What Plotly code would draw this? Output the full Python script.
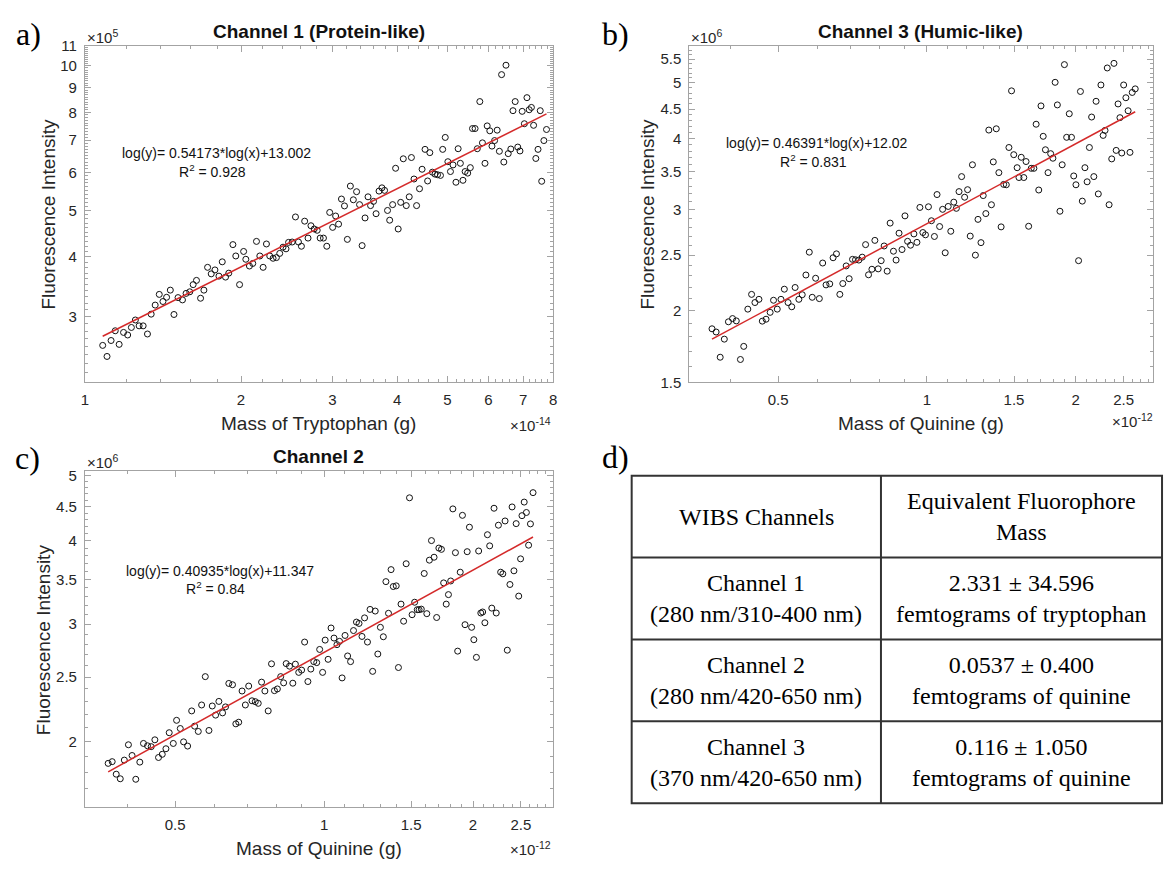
import numpy as np
import plotly.graph_objects as go

W, H = 1170, 872
SANS = "Liberation Sans, Arial, Helvetica, sans-serif"
SERIF = "Liberation Serif, Times New Roman, serif"
AX = "#a3a3a3"
TXT = "#262626"

# ---------------- data (x scaled by exponent label, y scaled by exponent label) ----------
# Channel 1 (Protein-like): mass of tryptophan (x1e-14 g), fluorescence intensity (x1e5)
ch1_mass = [1.082,1.103,1.123,1.144,1.164,1.187,1.209,1.229,1.251,1.272,
            1.295,1.320,1.342,1.366,1.391,1.414,1.437,1.461,1.485,1.512,
            1.542,1.567,1.593,1.617,1.641,1.671,1.696,1.724,1.752,1.781,
            1.813,1.840,1.867,1.894,1.929,1.954,1.987,2.023,2.043,2.076,
            2.107,2.142,2.174,2.206,2.239,2.272,2.306,2.340,2.375,2.410,
            2.442,2.470,2.510,2.547,2.581,2.615,2.653,2.693,2.728,2.768,
            2.805,2.842,2.884,2.927,2.965,3.004,3.044,3.084,3.124,3.166,
            3.207,3.250,3.293,3.341,3.385,3.424,3.469,3.515,3.555,3.602,
            3.643,3.691,3.739,3.783,3.833,3.870,3.921,3.973,4.019,4.064,
            4.111,4.166,4.221,4.262,4.311,4.361,4.418,4.469,4.528,4.580,
            4.625,4.678,4.732,4.786,4.849,4.897,4.953,5.011,5.069,5.127,
            5.194,5.245,5.297,5.358,5.410,5.472,5.536,5.590,5.654,5.710,
            5.775,5.842,5.909,5.967,6.036,6.095,6.166,6.237,6.299,6.361,
            6.424,6.486,6.551,6.627,6.691,6.757,6.835,6.902,6.970,7.038,
            7.119,7.190,7.261,7.332,7.405,7.478,7.552,7.601,7.675,7.765]
ch1_int = [2.614,2.479,2.676,2.804,2.627,2.782,2.748,2.849,2.953,2.871,
           2.871,2.761,3.037,3.172,3.339,3.227,3.293,3.408,3.032,3.288,
           3.252,3.355,3.381,3.499,3.571,3.278,3.408,3.802,3.685,3.755,
           3.645,3.904,3.628,3.697,4.240,4.015,3.499,4.103,3.952,3.826,
           3.874,4.306,4.015,3.802,4.253,4.015,3.971,3.984,4.065,4.188,
           4.155,4.286,4.293,4.842,4.293,4.207,4.745,4.375,4.642,4.570,
           4.542,4.375,4.375,4.207,4.948,4.606,4.864,4.678,5.277,5.105,
           4.348,5.615,5.258,5.466,5.137,4.220,4.819,5.333,5.113,5.218,
           4.918,5.482,5.568,5.501,4.995,4.767,5.137,6.116,4.570,5.193,
           6.401,5.113,5.333,6.440,5.809,5.113,5.544,6.088,6.697,5.755,
           6.593,6.003,5.947,5.929,5.910,6.697,7.092,6.312,6.021,6.215,
           5.719,6.718,6.263,5.773,6.021,5.975,6.135,7.401,7.401,6.718,
           8.424,6.910,6.263,7.495,7.321,6.803,6.986,7.344,6.636,9.587,
           6.302,10.03,6.562,6.708,8.063,8.424,6.771,6.646,8.038,7.574,
           8.583,8.100,8.190,7.516,6.411,6.697,8.063,5.746,6.986,7.367]
ch1_fit = {"slope": 0.54173, "intercept": 13.002, "r2": "0.928", "xexp": -14, "yexp": 5}

# Channel 3 (Humic-like): mass of quinine (x1e-12 g), fluorescence intensity (x1e6)
ch3_mass = [0.3674,0.3745,0.3817,0.3891,0.3966,0.4043,0.4114,0.4194,0.4259,0.4341,
            0.4418,0.4487,0.4572,0.4644,0.4726,0.4817,0.4893,0.4979,0.5066,0.5146,
            0.5236,0.5327,0.5411,0.5506,0.5593,0.5690,0.5780,0.5860,0.5953,0.6057,
            0.6152,0.6249,0.6358,0.6458,0.6560,0.6664,0.6757,0.6864,0.6960,0.7069,
            0.7168,0.7281,0.7396,0.7513,0.7617,0.7737,0.7845,0.7968,0.8079,0.8191,
            0.8308,0.8424,0.8555,0.8660,0.8780,0.8902,0.9026,0.9137,0.9264,0.9410,
            0.9543,0.9676,0.9811,0.9931,1.0070,1.0210,1.0353,1.0480,1.0607,1.0756,
            1.0887,1.1040,1.1173,1.1331,1.1468,1.1610,1.1751,1.1917,1.2083,1.2232,
            1.2359,1.2531,1.2683,1.2861,1.2996,1.3155,1.3339,1.3502,1.3619,1.3811,
            1.3978,1.4125,1.4295,1.4470,1.4648,1.4828,1.4982,1.5219,1.5350,1.5512,
            1.5700,1.5866,1.6058,1.6255,1.6455,1.6628,1.6832,1.7008,1.7185,1.7364,
            1.7578,1.7793,1.7979,1.8166,1.8356,1.8578,1.8773,1.8969,1.9167,1.9403,
            1.9605,1.9810,2.0016,2.0262,2.0440,2.0617,2.0870,2.1086,2.1309,2.1531,
            2.1756,2.1983,2.2212,2.2485,2.2720,2.2919,2.3158,2.3359,2.3646,2.3893,
            2.4142,2.4354,2.4568,2.4779,2.4997,2.5257,2.5521,2.5745,2.6014,2.6382]
ch3_int = [1.860,1.836,1.659,1.784,1.913,1.938,1.920,1.644,1.733,2.013,
           2.136,2.067,2.094,1.918,1.933,1.987,2.086,2.013,2.094,2.181,
           2.067,2.032,2.196,2.094,2.133,2.309,2.531,2.111,2.279,2.100,
           2.423,2.219,2.228,2.475,2.514,2.136,2.231,2.395,2.275,2.459,
           2.455,2.452,2.481,2.609,2.311,2.363,2.654,2.367,2.446,2.595,
           2.345,2.845,2.541,2.452,2.732,2.558,2.929,2.644,2.603,2.724,
           2.633,3.030,2.739,2.714,3.038,2.872,2.696,3.191,2.806,3.007,
           2.525,3.042,2.753,3.095,3.019,3.229,3.430,3.157,3.254,2.700,
           3.597,2.501,2.888,2.630,3.178,2.956,4.136,3.063,3.639,4.157,
           3.485,2.802,3.324,3.319,3.856,4.842,3.746,3.555,3.417,3.707,
           3.417,3.644,2.809,3.546,3.546,4.234,3.250,4.558,4.033,3.821,
           3.485,3.761,3.693,5.011,4.576,2.984,3.597,5.381,4.017,4.416,
           4.017,3.439,3.319,2.446,4.830,3.108,3.555,3.359,3.856,4.358,
           3.430,4.643,3.199,4.958,4.048,4.130,5.309,3.063,3.683,5.408,
           3.811,4.594,4.347,3.771,4.958,4.710,4.470,3.781,4.811,4.881]
ch3_fit = {"slope": 0.46391, "intercept": 12.02, "r2": "0.831", "xexp": -12, "yexp": 6}

# Channel 2: mass of quinine (x1e-12 g), fluorescence intensity (x1e6)
ch2_mass = [0.3661,0.3730,0.3801,0.3873,0.3947,0.4023,0.4092,0.4163,0.4242,0.4315,
            0.4397,0.4473,0.4550,0.4628,0.4709,0.4790,0.4864,0.4957,0.5034,0.5121,
            0.5200,0.5299,0.5400,0.5474,0.5569,0.5656,0.5753,0.5852,0.5943,0.6036,
            0.6129,0.6235,0.6321,0.6419,0.6530,0.6632,0.6722,0.6827,0.6933,0.7041,
            0.7150,0.7261,0.7361,0.7476,0.7592,0.7710,0.7830,0.7938,0.8047,0.8172,
            0.8284,0.8384,0.8514,0.8646,0.8750,0.8887,0.9008,0.9134,0.9275,0.9402,
            0.9532,0.9663,0.9797,0.9932,1.0051,1.0190,1.0330,1.0473,1.0618,1.0745,
            1.0875,1.1025,1.1158,1.1312,1.1468,1.1626,1.1766,1.1930,1.2074,1.2239,
            1.2387,1.2536,1.2688,1.2842,1.2997,1.3176,1.3335,1.3496,1.3659,1.3801,
            1.3990,1.4136,1.4306,1.4479,1.4653,1.4882,1.5062,1.5244,1.5428,1.5560,
            1.5721,1.5938,1.6130,1.6325,1.6485,1.6685,1.6886,1.7062,1.7268,1.7446,
            1.7656,1.7840,1.8026,1.8210,1.8429,1.8621,1.8845,1.9041,1.9270,1.9467,
            1.9670,1.9870,2.0077,2.0319,2.0531,2.0740,2.0918,2.1136,2.1391,2.1614,
            2.1827,2.2055,2.2284,2.2511,2.2746,2.2977,2.3217,2.3459,2.3748,2.3990,
            2.4196,2.4448,2.4743,2.4955,2.5119,2.5380,2.5639,2.5906,2.6130,2.6445]
ch2_int = [1.857,1.868,1.789,1.761,1.878,1.980,1.908,1.758,1.865,1.989,
           1.973,1.967,2.014,1.895,1.916,1.953,2.064,1.989,2.154,2.094,
           2.000,1.971,2.225,2.111,2.073,2.271,2.504,2.080,2.263,2.193,
           2.299,2.210,2.256,2.446,2.435,2.128,2.140,2.383,2.271,2.424,
           2.304,2.297,2.284,2.457,2.383,2.225,2.617,2.386,2.400,2.504,
           2.451,2.619,2.596,2.448,2.614,2.541,2.561,2.821,2.462,2.570,
           2.637,2.628,2.750,2.541,2.840,2.658,2.961,2.860,2.796,2.828,
           2.493,2.886,2.689,2.637,2.935,3.022,3.008,2.876,3.066,2.821,
           3.157,2.550,3.139,2.707,2.968,2.873,3.474,3.115,3.621,3.416,
           3.424,2.584,3.215,3.031,3.695,4.638,3.100,3.236,3.154,3.154,
           3.160,3.573,3.111,3.741,4.002,3.779,3.070,3.900,3.883,3.459,
           3.215,3.322,3.482,4.464,3.839,2.734,3.589,4.366,2.995,3.852,
           4.191,2.968,2.844,2.676,3.861,3.118,3.129,3.015,4.084,3.930,
           3.171,4.474,3.118,4.220,3.589,3.569,4.282,2.743,3.440,4.494,
           3.606,4.243,3.305,3.758,4.361,4.570,4.409,3.939,4.239,4.721]
ch2_fit = {"slope": 0.40935, "intercept": 11.347, "r2": "0.84", "xexp": -12, "yexp": 6}

# tick labels
ch1_xticks = [1, 2, 3, 4, 5, 6, 7, 8]
ch1_yticks = [3, 4, 5, 6, 7, 8, 9, 10, 11]
ch3_xticks = [0.5, 1, 1.5, 2, 2.5]
ch3_yticks = [1.5, 2, 2.5, 3, 3.5, 4, 4.5, 5, 5.5]
ch2_xticks = [0.5, 1, 1.5, 2, 2.5]
ch2_yticks = [2, 2.5, 3, 3.5, 4, 4.5, 5]

# table (panel d)
table_header = ["WIBS Channels", "Equivalent Fluorophore<br>Mass"]
table_channels = ["Channel 1<br>(280 nm/310-400 nm)",
                  "Channel 2<br>(280 nm/420-650 nm)",
                  "Channel 3<br>(370 nm/420-650 nm)"]
table_mass = ["2.331 ± 34.596<br>femtograms of tryptophan",
              "0.0537 ± 0.400<br>femtograms of quinine",
              "0.116 ± 1.050<br>femtograms of quinine"]


# ---------------- helpers ----------------
def px(x):
    return x / W


def py(y):
    return 1 - y / H


def fmt(v):
    return ("%g" % v)


def fit_line(xs, fit):
    xe = np.array([min(xs), max(xs)])
    ye = 10 ** (fit["slope"] * np.log10(xe * 10.0 ** fit["xexp"]) + fit["intercept"])
    return xe, ye / 10.0 ** fit["yexp"]


def log_axis(dom, lo, hi, ticks, minor_step, anchor):
    mn = np.round(np.arange(np.floor(lo * 10) / 10, hi + 1e-9, minor_step), 3)
    mn = [float(v) for v in mn if lo <= v <= hi]
    return dict(type="log", domain=dom, range=[np.log10(lo), np.log10(hi)], anchor=anchor,
                tickmode="array", tickvals=ticks, ticktext=[fmt(t) for t in ticks],
                ticks="inside", ticklen=6, tickwidth=1, tickcolor=AX,
                showline=True, linecolor=AX, linewidth=1, mirror="allticks",
                showgrid=False, zeroline=False, ticklabelstandoff=4,
                tickfont=dict(family=SANS, size=15, color=TXT),
                minor=dict(ticks="inside", ticklen=3, tickcolor=AX, tickwidth=1,
                           tickmode="array", tickvals=mn, showgrid=False))


# panel pixel boxes: left, right, top, bottom
box_a = (81.5, 553, 37.7, 380.7)
box_b = (690, 1157, 37.7, 380.7)
box_c = (81.5, 553, 471, 814)

fig = go.Figure()

panels = [
    ("", ch1_mass, ch1_int, ch1_fit),
    ("2", ch3_mass, ch3_int, ch3_fit),
    ("3", ch2_mass, ch2_int, ch2_fit),
]
for suf, xs, ys, fit in panels:
    fig.add_trace(go.Scatter(x=xs, y=ys, mode="markers", xaxis="x" + suf, yaxis="y" + suf,
                             marker=dict(symbol="circle-open", size=6, color="#111111",
                                         line=dict(width=1, color="#111111")),
                             showlegend=False, hoverinfo="x+y"))
    lx, ly = fit_line(xs, fit)
    fig.add_trace(go.Scatter(x=lx, y=ly, mode="lines", xaxis="x" + suf, yaxis="y" + suf,
                             line=dict(color="#d42a2a", width=1.5), showlegend=False))


def dom(box):
    l, r, t, b = box
    return [px(l), px(r)], [py(b), py(t)]


xa, ya = dom(box_a)
xb, yb = dom(box_b)
xc, yc = dom(box_c)

fig.update_layout(
    width=W, height=H, margin=dict(l=0, r=0, t=0, b=0),
    paper_bgcolor="white", plot_bgcolor="white",
    xaxis=log_axis(xa, 1.0, 8.0, ch1_xticks, 0.2, "y"),
    yaxis=log_axis(ya, 2.19, 11.0, ch1_yticks, 0.1, "x"),
    xaxis2=log_axis(xb, 0.3305, 2.867, ch3_xticks, 0.1, "y2"),
    yaxis2=log_axis(yb, 1.5, 5.8, ch3_yticks, 0.1, "x2"),
    xaxis3=log_axis(xc, 0.3286, 2.905, ch2_xticks, 0.1, "y3"),
    yaxis3=log_axis(yc, 1.597, 5.09, ch2_yticks, 0.1, "x3"),
)

ann = []


def text(x, y, s, size=16, family=SANS, color=TXT, xanchor="center", yanchor="middle",
         angle=0, weight="normal"):
    ann.append(dict(x=px(x), y=py(y), xref="paper", yref="paper", text=s, showarrow=False,
                    xanchor=xanchor, yanchor=yanchor, textangle=angle,
                    font=dict(family=family, size=size, color=color, weight=weight)))


# panel letters
text(25, 25, "a)", 32, SERIF, "#000")
text(616, 25, "b)", 32, SERIF, "#000")
text(24, 458, "c)", 32, SERIF, "#000")
text(616, 457, "d)", 32, SERIF, "#000")

# titles
text(317, 23, "Channel 1 (Protein-like)", 19, SANS, "#111", weight="bold")
text(923, 23, "Channel 3 (Humic-like)", 19, SANS, "#111", weight="bold")
text(317, 456, "Channel 2", 19, SANS, "#111", weight="bold")

# exponent labels
text(82, 28, "×10<sup>%d</sup>" % ch1_fit["yexp"], 15, xanchor="left")
text(690, 28, "×10<sup>%d</sup>" % ch3_fit["yexp"], 15, xanchor="left")
text(82, 462, "×10<sup>%d</sup>" % ch2_fit["yexp"], 15, xanchor="left")
text(553, 424, "×10<sup>%d</sup>" % ch1_fit["xexp"], 15, xanchor="right")
text(1159, 420, "×10<sup>%d</sup>" % ch3_fit["xexp"], 15, xanchor="right")
text(553, 856, "×10<sup>%d</sup>" % ch2_fit["xexp"], 15, xanchor="right")

# axis titles
text(317, 423, "Mass of Tryptophan (g)", 19)
text(923, 423, "Mass of Quinine (g)", 19)
text(317, 856, "Mass of Quinine (g)", 19)
text(45, 209, "Fluorescence Intensity", 19, angle=-90)
text(648, 209, "Fluorescence Intensity", 19, angle=-90)
text(40, 643, "Fluorescence Intensity", 19, angle=-90)

# fit equations
for (cx, cy), fit in [((214, 147), ch1_fit), ((819, 137), ch3_fit), ((217, 573), ch2_fit)]:
    text(cx, cy, "log(y)= %g*log(x)+%g" % (fit["slope"], fit["intercept"]), 14, color="#111")
    text(cx - 4, cy + 18, "R<sup>2</sup> = %s" % fit["r2"], 14, color="#111")

# table panel d
T_L, T_R, T_T, T_B = 632, 1166, 476, 810
T_DIV = 883
n_rows = 1 + len(table_channels)
row_h = (T_B - T_T) / n_rows
shapes = []
LINE = dict(color="#333333", width=2)
shapes.append(dict(type="rect", xref="paper", yref="paper", x0=px(T_L), x1=px(T_R),
                   y0=py(T_B), y1=py(T_T), line=LINE))
shapes.append(dict(type="line", xref="paper", yref="paper", x0=px(T_DIV), x1=px(T_DIV),
                   y0=py(T_B), y1=py(T_T), line=LINE))
for k in range(1, n_rows):
    yy = T_T + k * row_h
    shapes.append(dict(type="line", xref="paper", yref="paper", x0=px(T_L), x1=px(T_R),
                       y0=py(yy), y1=py(yy), line=LINE))
c1 = (T_L + T_DIV) / 2
c2 = (T_DIV + T_R) / 2
rows = [table_header] + [[a, b] for a, b in zip(table_channels, table_mass)]
for k, (a, b) in enumerate(rows):
    yc_ = T_T + (k + 0.5) * row_h
    text(c1, yc_, a, 24, SERIF, "#000")
    text(c2, yc_, b, 24, SERIF, "#000")

fig.update_layout(annotations=ann, shapes=shapes)
fig.write_html("out.html")
